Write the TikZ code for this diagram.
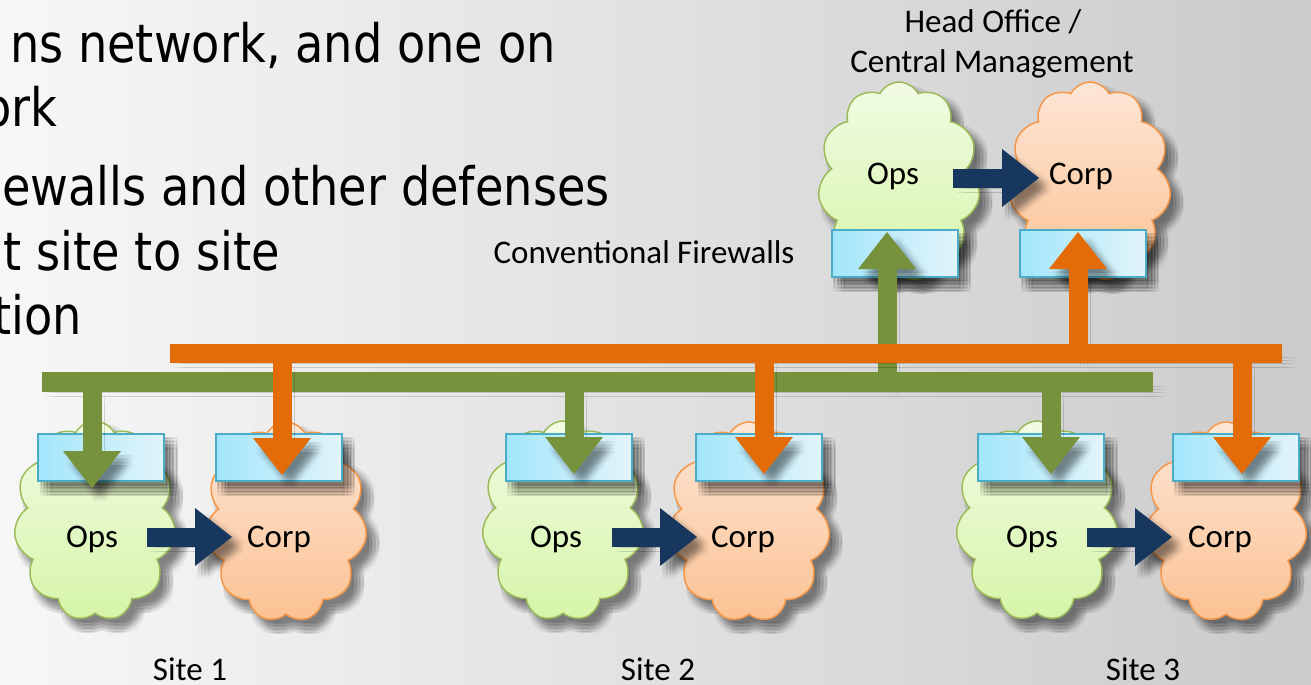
\documentclass[tikz,border=0pt]{standalone}
\usepackage{fontspec}
\usetikzlibrary{shapes.symbols, arrows.meta}
\newfontfamily\bodyfont[FakeStretch=0.873]{DejaVu Sans}
\newfontfamily\labelfont{Carlito}
\definecolor{netgreen}{HTML}{76923C}
\definecolor{netorange}{HTML}{E36C09}
\definecolor{linkblue}{HTML}{17375E}
\definecolor{fwborder}{HTML}{4BACC6}
\definecolor{fwleft}{HTML}{A2E6FB}
\definecolor{fwright}{HTML}{E2F4FA}
\definecolor{opsline}{HTML}{9BBB59}
\definecolor{opstop}{HTML}{F1FBE4}
\definecolor{opsbottom}{HTML}{D6F5A8}
\definecolor{corpline}{HTML}{F79646}
\definecolor{corptop}{HTML}{FDE6D6}
\definecolor{corpbottom}{HTML}{FBC293}
\definecolor{bgleft}{HTML}{F7F7F7}
\definecolor{bgmid}{HTML}{E6E6E6}
\definecolor{bgright}{HTML}{CBCBCB}

\tikzset{
  % one translucent copy of the path; many of them stacked give a soft shadow
  shadowcopy/.style={preaction={draw=black, fill=black, opacity=.035, transform canvas={shift={#1}}}},
  softshadow/.style={
    shadowcopy={(2pt,-3pt)}, shadowcopy={(4.5pt,-3pt)}, shadowcopy={(7pt,-3pt)}, shadowcopy={(9.5pt,-3pt)},
    shadowcopy={(2pt,-5.5pt)}, shadowcopy={(4.5pt,-5.5pt)}, shadowcopy={(7pt,-5.5pt)}, shadowcopy={(9.5pt,-5.5pt)},
    shadowcopy={(2pt,-8pt)}, shadowcopy={(4.5pt,-8pt)}, shadowcopy={(7pt,-8pt)}, shadowcopy={(9.5pt,-8pt)},
    shadowcopy={(2pt,-10.5pt)}, shadowcopy={(4.5pt,-10.5pt)}, shadowcopy={(7pt,-10.5pt)}, shadowcopy={(9.5pt,-10.5pt)}
  },
  bullettext/.style={font=\bodyfont\fontsize{39.75}{47}\selectfont, inner sep=0pt, anchor=base east},
  caption/.style={font=\labelfont\fontsize{24.75}{30}\selectfont, inner sep=0pt, anchor=base},
  cloudbase/.style={cloud, cloud puffs=11, cloud puff arc=125, aspect=0.8,
    minimum width=121.5pt, minimum height=150pt, inner sep=0pt, line width=1.1pt, softshadow},
  opscloud/.style={cloudbase, draw=opsline, top color=opstop, bottom color=opsbottom},
  corpcloud/.style={cloudbase, draw=corpline, top color=corptop, bottom color=corpbottom},
  firewall/.style={rectangle, draw=fwborder, line width=1.5pt, left color=fwleft, right color=fwright,
    minimum width=94.5pt, minimum height=35.25pt, inner sep=0pt, softshadow},
  busline/.style={line width=15pt, softshadow},
  feed/.style={line width=14.25pt, -{Triangle[width=43.5pt, length=27.75pt, line width=0pt]}, softshadow},
  link/.style={feed, draw=linkblue}
}

\begin{document}
\begin{tikzpicture}[x=0.75pt, y=-0.75pt]
\useasboundingbox (0,0) rectangle (1311,685);
\clip (0,0) rectangle (1311,685);
\shade[left color=bgleft, middle color=bgmid, right color=bgright] (0,0) rectangle (1311,685);

% bullet text running in from the left
\node[bullettext] (b1) at (556,63) {ns network, and one on};
\node[bullettext] (b2) at (58,127) {ork};
\node[bullettext] (b3) at (610,205) {ewalls and other defenses};
\node[bullettext] (b4) at (280,270) {t site to site};
\node[bullettext] (b5) at (82,334) {tion};

% captions
\node[caption] (hq1) at (993,33) {Head Office /};
\node[caption] (hq2) at (992,73) {Central Management};
\node[caption] (conv) at (644,263) {Conventional Firewalls};
\node[caption] (s1) at (190,680) {Site 1};
\node[caption] (s2) at (658,680) {Site 2};
\node[caption] (s3) at (1143,680) {Site 3};

% network clouds
\node[opscloud]  (ops1)  at (95,521) {};
\node[corpcloud] (corp1) at (286,522) {};
\node[opscloud]  (ops2)  at (563,521) {};
\node[corpcloud] (corp2) at (749,522) {};
\node[opscloud]  (ops3)  at (1037,521) {};
\node[corpcloud] (corp3) at (1226,522) {};
\node[opscloud]  (opsH)  at (899,182) {};
\node[corpcloud] (corpH) at (1090,182) {};

\node[caption] (t-ops1)  at (92,547) {Ops};
\node[caption] (t-corp1) at (279,547) {Corp};
\node[caption] (t-ops2)  at (556,547) {Ops};
\node[caption] (t-corp2) at (743,547) {Corp};
\node[caption] (t-ops3)  at (1032,547) {Ops};
\node[caption] (t-corp3) at (1220,547) {Corp};
\node[caption] (t-opsH)  at (893,185) {Ops};
\node[caption] (t-corpH) at (1081,185) {Corp};

% one-way links from Ops to Corp
\coordinate (l1a) at (147,537); \coordinate (l1b) at (232,537);
\coordinate (l2a) at (612,537); \coordinate (l2b) at (697,537);
\coordinate (l3a) at (1087,537); \coordinate (l3b) at (1172,537);
\coordinate (lHa) at (953,178); \coordinate (lHb) at (1039,178);
\draw[link] (l1a) -- (l1b);
\draw[link] (l2a) -- (l2b);
\draw[link] (l3a) -- (l3b);
\draw[link] (lHa) -- (lHb);

% firewalls
\node[firewall] (fw-ops1)  at (101,457.5) {};
\node[firewall] (fw-corp1) at (278.5,457.5) {};
\node[firewall] (fw-ops2)  at (568.5,457.5) {};
\node[firewall] (fw-corp2) at (759,457.5) {};
\node[firewall] (fw-ops3)  at (1041,457.5) {};
\node[firewall] (fw-corp3) at (1235.5,457.5) {};
\node[firewall] (fw-opsH)  at (894.5,253.5) {};
\node[firewall] (fw-corpH) at (1082.5,253.5) {};

% operations backbone: uplink first, so the bus covers its foot
\coordinate (gw) at (42,382); \coordinate (ge) at (1153,382);
\coordinate (gH) at (887,382); \coordinate (gHt) at (887,232);
\coordinate (g1) at (92,390);  \coordinate (g1t) at (92,488);
\coordinate (g2) at (574,390); \coordinate (g2t) at (574,474);
\coordinate (g3) at (1051,390); \coordinate (g3t) at (1051,474);
\draw[feed, netgreen] (gH) -- (gHt);
\draw[busline, netgreen] (gw) -- (ge);
\draw[feed, netgreen] (g1) -- (g1t);
\draw[feed, netgreen] (g2) -- (g2t);
\draw[feed, netgreen] (g3) -- (g3t);

% corporate backbone
\coordinate (ow) at (170,353); \coordinate (oe) at (1282,353);
\coordinate (oH) at (1078,353); \coordinate (oHt) at (1078,232);
\coordinate (o1) at (282,360);  \coordinate (o1t) at (282,475);
\coordinate (o2) at (764,360);  \coordinate (o2t) at (764,474);
\coordinate (o3) at (1242,360); \coordinate (o3t) at (1242,474);
\draw[feed, netorange] (oH) -- (oHt);
\draw[busline, netorange, line width=14.25pt] (ow) -- (oe);
\draw[feed, netorange] (o1) -- (o1t);
\draw[feed, netorange] (o2) -- (o2t);
\draw[feed, netorange] (o3) -- (o3t);
\end{tikzpicture}
\end{document}
